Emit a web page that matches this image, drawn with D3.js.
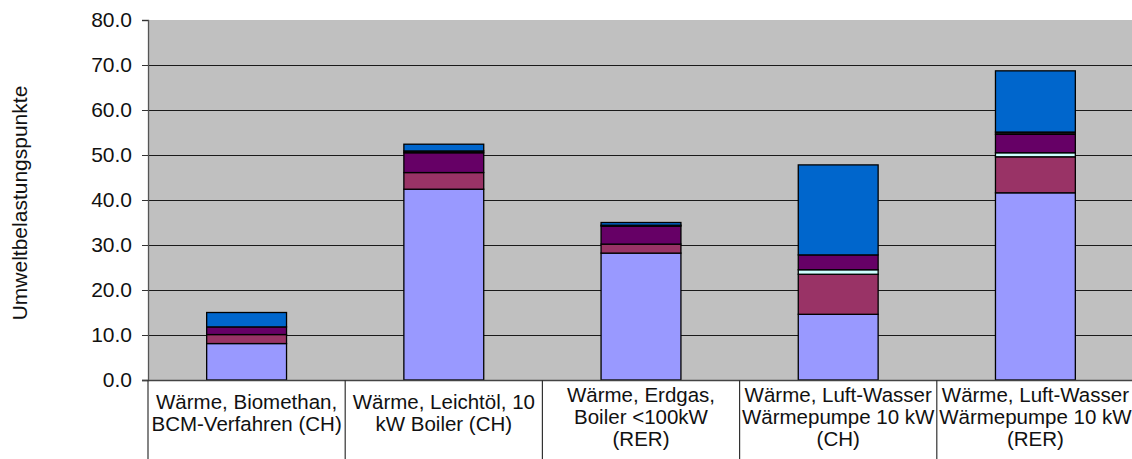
<!DOCTYPE html>
<html>
<head>
<meta charset="utf-8">
<script src="https://cdn.jsdelivr.net/npm/d3@7"></script>
<style>
  html, body { margin: 0; padding: 0; background: #fff; }
  svg { display: block; }
  text { font-family: "Liberation Sans", Arial, sans-serif; fill: #111; }
</style>
</head>
<body>
<svg id="chart" width="1132" height="459"></svg>
<script>
// Heat supply options (category labels, one entry per line)
const categories = [
  ["Wärme, Biomethan,", "BCM-Verfahren (CH)"],
  ["Wärme, Leichtöl, 10", "kW Boiler (CH)"],
  ["Wärme, Erdgas,", "Boiler <100kW", "(RER)"],
  ["Wärme, Luft-Wasser", "Wärmepumpe 10 kW", "(CH)"],
  ["Wärme, Luft-Wasser", "Wärmepumpe 10 kW", "(RER)"]
];

// Stacked contributions (Umweltbelastungspunkte), bottom to top
const seriesA = [8.1, 42.4, 28.2, 14.6, 41.6];
const seriesB = [2.0, 3.7, 2.0, 8.9, 8.0];
const seriesC = [0.0, 0.0, 0.0, 1.0, 0.9];
const seriesD = [1.7, 4.4, 4.0, 3.3, 4.1];
const seriesE = [0.0, 0.4, 0.2, 0.0, 0.5];
const seriesF = [3.2, 1.5, 0.6, 20.0, 13.6];

const seriesColors = ["#9999FF", "#993366", "#CCFFFF", "#660066", "#1a1a1a", "#0066CC"];

const yTicks = [0, 10, 20, 30, 40, 50, 60, 70, 80];

const svg = d3.select("#chart");
const W = 1132, H = 459;
const plot = { left: 148, right: 1134, top: 20, bottom: 380 };
const fontSize = "20.5px";

const allSeries = [seriesA, seriesB, seriesC, seriesD, seriesE, seriesF];
const rows = categories.map((c, i) => {
  const r = { key: i };
  allSeries.forEach((s, k) => { r["s" + k] = s[i]; });
  return r;
});
const keys = allSeries.map((_, k) => "s" + k);
const stacked = d3.stack().keys(keys)(rows);

const x = d3.scaleBand().domain(d3.range(categories.length)).range([plot.left, plot.right]).padding(0);
const y = d3.scaleLinear().domain([0, 80]).range([plot.bottom, plot.top]);
const barW = x.bandwidth() * 0.405;

// plot background
svg.append("rect")
  .attr("x", plot.left).attr("y", plot.top)
  .attr("width", plot.right - plot.left).attr("height", plot.bottom - plot.top)
  .attr("fill", "#C0C0C0");

// horizontal gridlines
svg.append("g").selectAll("line")
  .data(yTicks.filter(t => t > 0 && t < 80))
  .join("line")
  .attr("x1", plot.left).attr("x2", plot.right)
  .attr("y1", d => Math.round(y(d)) + 0.5).attr("y2", d => Math.round(y(d)) + 0.5)
  .attr("stroke", "#1a1a1a").attr("stroke-width", 1.2);

// stacked bars
svg.append("g").selectAll("g")
  .data(stacked)
  .join("g")
  .attr("fill", (d, k) => seriesColors[k])
  .selectAll("rect")
  .data(d => d.filter(p => p[1] - p[0] > 0))
  .join("rect")
  .attr("x", d => x(d.data.key) + (x.bandwidth() - barW) / 2)
  .attr("y", d => y(d[1]))
  .attr("width", barW)
  .attr("height", d => y(d[0]) - y(d[1]))
  .attr("stroke", "#000")
  .attr("stroke-width", 1.3);

// y axis
const yAxis = d3.axisLeft(y).tickValues(yTicks).tickFormat(d3.format(".1f")).tickSize(6).tickPadding(10);
const gy = svg.append("g").attr("transform", `translate(${plot.left},0)`).call(yAxis);
gy.select(".domain").attr("stroke", "#555").attr("stroke-width", 1.3);
gy.selectAll(".tick line").attr("stroke", "#333");
gy.selectAll(".tick text")
  .style("font-family", '"Liberation Sans", Arial, sans-serif')
  .style("font-size", "21px")
  .attr("fill", "#111");

// x axis line
svg.append("line")
  .attr("x1", plot.left - 6).attr("x2", plot.right)
  .attr("y1", plot.bottom + 0.5).attr("y2", plot.bottom + 0.5)
  .attr("stroke", "#444").attr("stroke-width", 1.3);

// category dividers below the axis
svg.append("g").selectAll("line")
  .data(d3.range(categories.length + 1))
  .join("line")
  .attr("x1", d => d < categories.length ? x(d) : plot.right)
  .attr("x2", d => d < categories.length ? x(d) : plot.right)
  .attr("y1", plot.bottom).attr("y2", H)
  .attr("stroke", "#333").attr("stroke-width", 1.2);

// category labels
const lineH = 22;
svg.append("g").selectAll("text")
  .data(categories.map((c, i) => ({ lines: c, i })))
  .join("text")
  .attr("text-anchor", "middle")
  .style("font-size", fontSize)
  .each(function (d) {
    const y0 = d.lines.length === 3 ? 402 : 409;
    d3.select(this).selectAll("tspan")
      .data(d.lines)
      .join("tspan")
      .attr("x", x(d.i) + x.bandwidth() / 2)
      .attr("y", (l, j) => y0 + j * lineH)
      .text(l => l);
  });

// y axis title
svg.append("text")
  .attr("transform", `translate(27,${(plot.top + plot.bottom) / 2 + 3}) rotate(-90)`)
  .attr("text-anchor", "middle")
  .style("font-size", "21px")
  .text("Umweltbelastungspunkte");
</script>
</body>
</html>
